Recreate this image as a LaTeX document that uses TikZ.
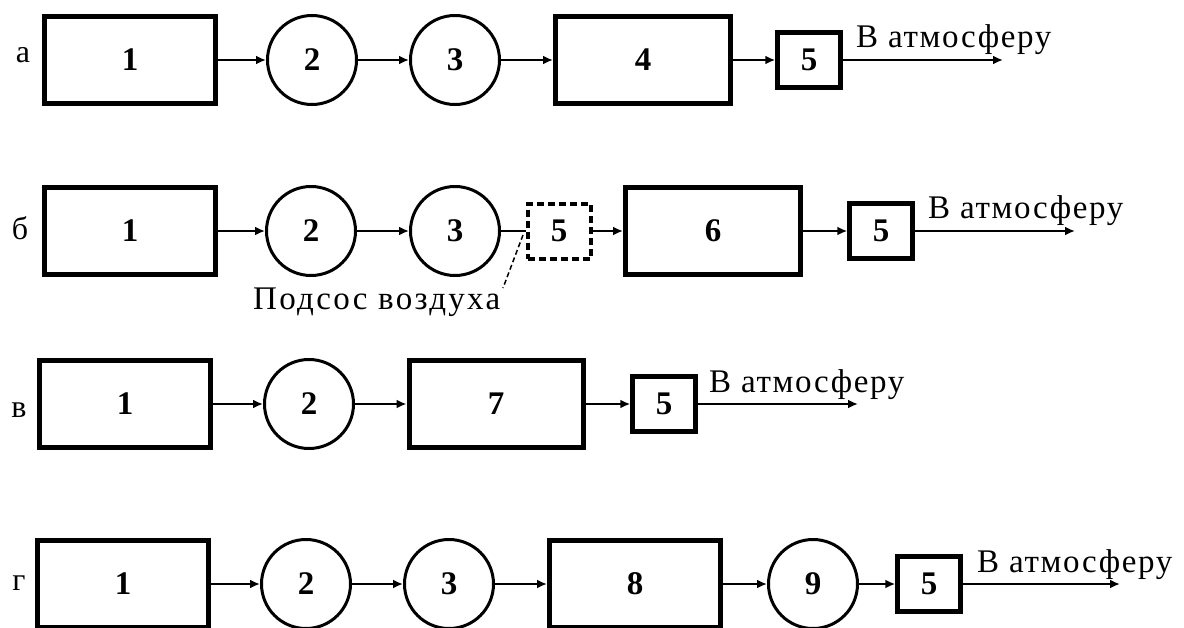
\documentclass[tikz,border=0pt]{standalone}
\usepackage{fontspec}
\setmainfont{Liberation Serif}
\newfontfamily\shirfont[LetterSpace=5]{Liberation Serif}
\newfontfamily\podfont[LetterSpace=7]{Liberation Serif}
\usetikzlibrary{arrows.meta}
\usetikzlibrary{positioning}

\begin{document}
\begin{tikzpicture}[x=1pt,y=-1pt]
    \tikzstyle{blok}=[rectangle,draw,line width=5pt,minimum width=171pt,minimum height=87pt,font=\fontsize{33}{38}\selectfont\bfseries]
    \tikzstyle{krug}=[circle,draw,line width=3pt,minimum size=89pt,inner sep=0pt,font=\fontsize{33}{38}\selectfont\bfseries]
    \tikzstyle{filtr}=[rectangle,draw,line width=4.5pt,minimum width=63pt,minimum height=55pt,inner sep=0pt,font=\fontsize{33}{38}\selectfont\bfseries]
    \tikzstyle{filtrpunktir}=[filtr,line width=4pt,dash pattern=on 7pt off 4pt]
    \tikzstyle{potok}=[line width=2pt,-{Latex[length=10pt,width=9pt]}]
    \tikzstyle{liniya}=[line width=2pt]
    \tikzstyle{bukva}=[anchor=center,inner sep=0pt,font=\fontsize{32}{38}\selectfont]
    \tikzstyle{nadpis}=[anchor=base west,inner sep=0pt,font=\fontsize{33}{38}\shirfont]
    \useasboundingbox (0,0) rectangle (1184,627);
    \clip (0,0) rectangle (1184,627);
    % a
    \node[bukva] (la) at (23,55) {а};
    \node[blok] (a1) at (130,60) {1};
    \node[krug] (a2) at (312,60) {2};
    \node[krug] (a3) at (455,60) {3};
    \node[blok,minimum width=175pt] (a4) at (643,60) {4};
    \node[filtr] (a5) at (809,60) {5};
    \coordinate (a6) at (1003,60);
    \node[nadpis] (ta) at (856,47) {В атмосферу};
    \draw[potok] (a1) -- (a2);
    \draw[potok] (a2) -- (a3);
    \draw[potok] (a3) -- (a4);
    \draw[potok] (a4) -- (a5);
    \draw[potok] (a5) -- (a6);
    % b
    \node[bukva] (lb) at (20,228) {б};
    \node[blok] (b1) at (130,231) {1};
    \node[krug] (b2) at (311,231) {2};
    \node[krug] (b3) at (455,231) {3};
    \node[filtrpunktir] (b4) at (559,231) {5};
    \node[blok,minimum width=175pt] (b5) at (713,231) {6};
    \node[filtr] (b6) at (881,231) {5};
    \coordinate (b7) at (1075,231);
    \node[nadpis] (tb) at (928,218) {В атмосферу};
    \node[nadpis,font=\fontsize{33}{38}\podfont] (tv) at (253,309) {Подсос воздуха};
    \coordinate (bv1) at (523,235);
    \coordinate (bv2) at (503,288);
    \draw[potok] (b1) -- (b2);
    \draw[potok] (b2) -- (b3);
    \draw[liniya] (b3) -- (b4);
    \draw[potok] (b4) -- (b5);
    \draw[potok] (b5) -- (b6);
    \draw[potok] (b6) -- (b7);
    \draw[line width=1.5pt,dash pattern=on 5pt off 3pt] (bv1) -- (bv2);
    % v
    \node[bukva] (lv) at (19,410) {в};
    \node[blok] (v1) at (125,404) {1};
    \node[krug] (v2) at (309,404) {2};
    \node[blok,minimum width=174pt] (v3) at (496,404) {7};
    \node[filtr] (v4) at (664,404) {5};
    \coordinate (v5) at (858,404);
    \node[nadpis] (tvv) at (709,392) {В атмосферу};
    \draw[potok] (v1) -- (v2);
    \draw[potok] (v2) -- (v3);
    \draw[potok] (v3) -- (v4);
    \draw[potok] (v4) -- (v5);
    % g
    \node[bukva] (lg) at (19,583) {г};
    \node[blok] (g1) at (123,584) {1};
    \node[krug] (g2) at (306,584) {2};
    \node[krug] (g3) at (449,584) {3};
    \node[blok] (g4) at (635,584) {8};
    \node[krug] (g5) at (813,584) {9};
    \node[filtr] (g6) at (929,584) {5};
    \coordinate (g7) at (1120,584);
    \node[nadpis] (tg) at (977,572) {В атмосферу};
    \draw[potok] (g1) -- (g2);
    \draw[potok] (g2) -- (g3);
    \draw[potok] (g3) -- (g4);
    \draw[potok] (g4) -- (g5);
    \draw[potok] (g5) -- (g6);
    \draw[potok] (g6) -- (g7);
\end{tikzpicture}
\end{document}
